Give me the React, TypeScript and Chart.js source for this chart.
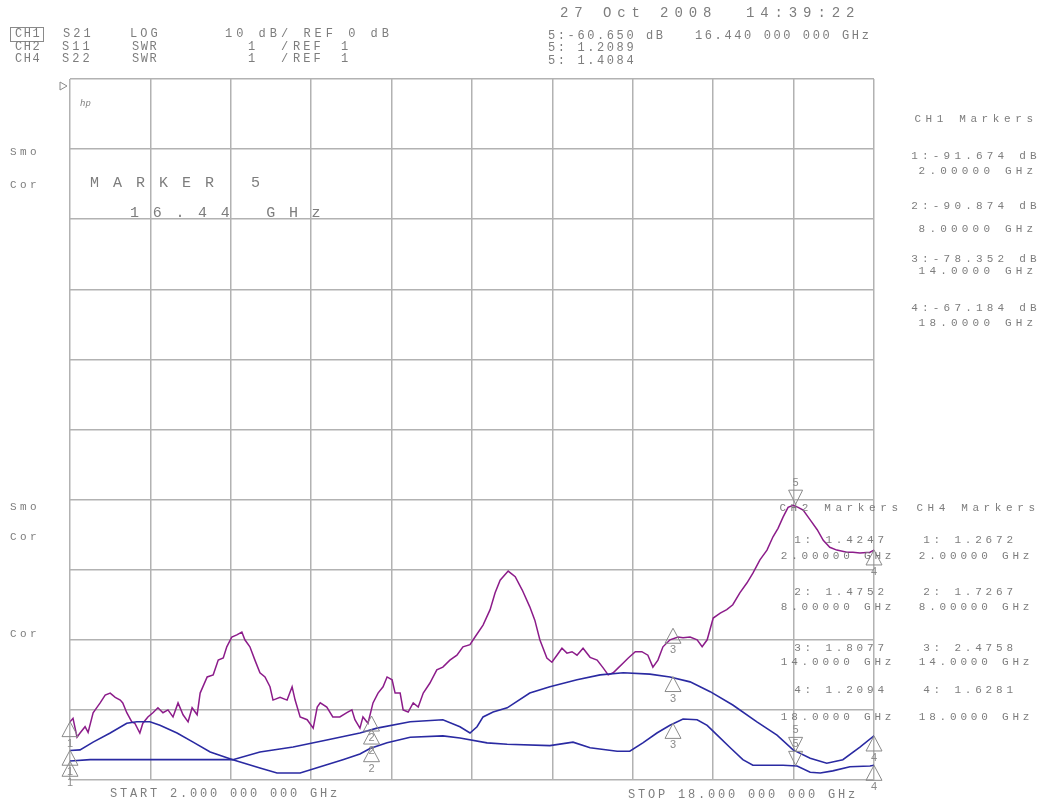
import React, { useEffect, useRef } from "react";
import { Chart, registerables } from "chart.js";

Chart.register(...registerables);

// ---- Data ----
// Frequency grid: 2 GHz to 18 GHz, 10 divisions
const gridFreqTicks = [2, 3.6, 5.2, 6.8, 8.4, 10, 11.6, 13.2, 14.8, 16.4, 18];

// CH1 S21 (dB)
const ch1Freq = [
  2.00, 2.06, 2.14, 2.20, 2.30, 2.36, 2.46, 2.54, 2.60, 2.70,
  2.80, 2.90, 3.00, 3.05, 3.13, 3.23, 3.29, 3.39, 3.45, 3.55,
  3.65, 3.75, 3.85, 3.95, 4.05, 4.15, 4.25, 4.35, 4.43, 4.53,
  4.59, 4.73, 4.85, 4.95, 5.05, 5.12, 5.22, 5.32, 5.42, 5.48,
  5.58, 5.68, 5.78, 5.88, 5.98, 6.04, 6.18, 6.32, 6.42, 6.48,
  6.58, 6.72, 6.84, 6.92, 6.98, 7.11, 7.23, 7.37, 7.51, 7.61,
  7.67, 7.77, 7.83, 7.93, 8.03, 8.13, 8.23, 8.31, 8.41, 8.47,
  8.57, 8.63, 8.73, 8.83, 8.93, 9.03, 9.16, 9.30, 9.42, 9.56,
  9.70, 9.82, 9.96, 10.06, 10.22, 10.36, 10.46, 10.56, 10.72, 10.86,
  11.00, 11.15, 11.25, 11.35, 11.49, 11.59, 11.69, 11.79, 11.89, 11.99,
  12.09, 12.21, 12.35, 12.49, 12.61, 12.71, 12.81, 12.91, 13.01, 13.11,
  13.25, 13.38, 13.50, 13.60, 13.70, 13.80, 13.94, 14.10, 14.20, 14.34,
  14.48, 14.58, 14.68, 14.80, 14.94, 15.07, 15.19, 15.33, 15.47, 15.59,
  15.73, 15.87, 15.99, 16.09, 16.19, 16.29, 16.39, 16.49, 16.59, 16.73,
  16.87, 16.99, 17.12, 17.26, 17.46, 17.58, 17.72, 17.92, 18.00,
];
const ch1Db = [
  -91.7, -91.2, -93.9, -93.3, -92.4, -93.2, -90.4, -89.6, -89.0, -87.9,
  -87.6, -88.2, -88.6, -89.0, -90.4, -91.7, -91.9, -93.3, -91.9, -91.0,
  -90.4, -89.7, -90.4, -90.0, -91.0, -89.0, -90.7, -91.7, -89.7, -90.7,
  -87.6, -85.3, -85.0, -82.9, -82.6, -81.0, -79.6, -79.3, -78.9, -80.0,
  -81.0, -82.9, -84.7, -85.3, -86.7, -88.6, -88.2, -88.6, -86.7, -88.6,
  -91.0, -91.4, -92.6, -89.6, -89.0, -89.6, -91.0, -91.0, -90.4, -90.0,
  -91.4, -92.6, -91.0, -91.9, -89.0, -87.6, -86.7, -85.3, -85.7, -87.6,
  -87.6, -90.0, -90.3, -89.0, -89.6, -87.6, -86.2, -84.3, -83.9, -82.9,
  -82.2, -81.0, -80.7, -79.6, -77.9, -75.7, -73.3, -71.5, -70.2, -71.0,
  -72.9, -75.3, -77.2, -80.0, -82.6, -83.2, -82.2, -81.2, -81.9, -81.7,
  -82.2, -81.2, -82.5, -82.9, -84.0, -85.0, -84.7, -84.0, -83.3, -82.6,
  -81.7, -81.7, -82.2, -83.9, -82.9, -81.0, -80.0, -79.6, -79.7, -79.6,
  -80.0, -81.0, -80.0, -76.9, -76.2, -75.7, -75.0, -73.3, -71.9, -70.5,
  -68.6, -67.2, -65.3, -64.1, -62.5, -61.1, -60.8, -61.1, -61.5, -62.9,
  -64.3, -65.8, -66.8, -67.2, -67.5, -67.5, -67.6, -67.5, -67.2,
];

// CH2 S11 (SWR)
const ch2Freq = [
  2.00, 2.20, 2.46, 2.80, 3.13, 3.33, 3.59, 3.79, 4.13, 4.45,
  4.79, 5.24, 5.78, 6.12, 6.58, 6.98, 7.43, 7.77, 7.97, 8.31,
  8.77, 9.42, 9.76, 10.30, 10.70, 11.55, 12.01, 12.35, 12.89, 13.14,
  13.40, 13.68, 13.94, 14.20, 14.48, 14.68, 14.88, 15.14, 15.39, 15.59,
  16.19, 16.47, 16.73, 16.93, 17.18, 17.52, 17.92, 18.00,
];
const ch2Swr = [
  1.42, 1.43, 1.54, 1.67, 1.81, 1.83, 1.83, 1.78, 1.67, 1.54,
  1.40, 1.29, 1.17, 1.10, 1.10, 1.19, 1.29, 1.37, 1.45, 1.53,
  1.61, 1.63, 1.60, 1.53, 1.51, 1.49, 1.54, 1.46, 1.41, 1.41,
  1.53, 1.67, 1.78, 1.87, 1.86, 1.78, 1.64, 1.46, 1.29, 1.21,
  1.21, 1.20, 1.11, 1.10, 1.13, 1.19, 1.20, 1.21,
];

// CH4 S22 (SWR)
const ch4Freq = [
  2.00, 2.40, 3.59, 5.24, 5.78, 6.44, 7.11, 7.77, 8.11, 8.77,
  9.42, 9.76, 9.96, 10.10, 10.22, 10.42, 10.70, 11.15, 11.55, 12.09,
  12.55, 13.01, 13.54, 13.94, 14.34, 14.74, 15.19, 15.67, 16.07, 16.39,
  16.73, 17.06, 17.38, 17.72, 18.00,
];
const ch4Swr = [
  1.27, 1.29, 1.29, 1.29, 1.40, 1.47, 1.57, 1.67, 1.74, 1.83,
  1.86, 1.76, 1.67, 1.76, 1.90, 1.97, 2.03, 2.24, 2.33, 2.43,
  2.50, 2.53, 2.51, 2.47, 2.40, 2.26, 2.07, 1.83, 1.64, 1.43,
  1.31, 1.24, 1.29, 1.47, 1.63,
];

// Markers
const markerFreqs = [2, 8, 14, 18];
const marker5Freq = 16.44;
const ch1MarkerDb = [-91.674, -90.874, -78.352, -67.184];
const ch1Marker5 = -60.65;
const ch2MarkerSwr = [1.4247, 1.4752, 1.8077, 1.2094];
const ch2Marker5 = 1.2089;
const ch4MarkerSwr = [1.2672, 1.7267, 2.4758, 1.6281];
const ch4Marker5 = 1.4084;

const ch1MarkerText = ["1:-91.674 dB", "2:-90.874 dB", "3:-78.352 dB", "4:-67.184 dB"];
const markerFreqText = ["2.00000 GHz", "8.00000 GHz", "14.0000 GHz", "18.0000 GHz"];
const ch2MarkerText = ["1: 1.4247", "2: 1.4752", "3: 1.8077", "4: 1.2094"];
const ch4MarkerText = ["1: 1.2672", "2: 1.7267", "3: 2.4758", "4: 1.6281"];

// ---- Styles ----
const PURPLE = "#8c1c8a";
const BLUE = "#2a2aa2";
const GRID = "#b2b2b2";
const TEXT = "#7d7d7d";
const MARK = "#8a8a8a";
const FONT = '"Liberation Mono", "DejaVu Sans Mono", monospace';

const markerPlugin = {
  id: "vnaMarkers",
  afterDatasetsDraw(chart: any) {
    const { ctx } = chart;
    const xs = chart.scales.x;
    const groups = [
      { scale: chart.scales.y, vals: ch1MarkerDb, m5: ch1Marker5 },
      { scale: chart.scales.ySwr, vals: ch2MarkerSwr, m5: ch2Marker5 },
      { scale: chart.scales.ySwr, vals: ch4MarkerSwr, m5: ch4Marker5 },
    ];
    ctx.save();
    ctx.strokeStyle = MARK;
    ctx.fillStyle = MARK;
    ctx.lineWidth = 1;
    ctx.font = '11px "Liberation Sans", sans-serif';
    ctx.textAlign = "center";
    ctx.textBaseline = "middle";
    groups.forEach((g) => {
      g.vals.forEach((v: number, i: number) => {
        const px = xs.getPixelForValue(markerFreqs[i]);
        const py = g.scale.getPixelForValue(v);
        ctx.beginPath();
        ctx.moveTo(px, py);
        ctx.lineTo(px - 8, py + 15);
        ctx.lineTo(px + 8, py + 15);
        ctx.closePath();
        ctx.stroke();
        ctx.fillText(String(i + 1), px, py + 22);
      });
      const px = xs.getPixelForValue(marker5Freq);
      const py = g.scale.getPixelForValue(g.m5);
      ctx.beginPath();
      ctx.moveTo(px, py);
      ctx.lineTo(px - 7, py - 14);
      ctx.lineTo(px + 7, py - 14);
      ctx.closePath();
      ctx.stroke();
      ctx.fillText("5", px, py - 21);
    });
    // reference position pointer
    const top = chart.chartArea.top;
    ctx.beginPath();
    ctx.moveTo(60, top + 3);
    ctx.lineTo(67, top + 7);
    ctx.lineTo(60, top + 11);
    ctx.closePath();
    ctx.stroke();
    ctx.restore();
  },
};

type TP = {
  x: number;
  y: number;
  s: string;
  size?: number;
  ls?: number;
  align?: "left" | "center";
  italic?: boolean;
  color?: string;
};

function T({ x, y, s, size = 12, ls = 3, align = "left", italic, color = TEXT }: TP) {
  const style: React.CSSProperties = {
    position: "absolute",
    top: y - size / 2,
    left: x,
    fontSize: size,
    lineHeight: size + "px",
    letterSpacing: ls,
    whiteSpace: "pre",
    color,
    fontFamily: FONT,
    fontStyle: italic ? "italic" : "normal",
  };
  if (align === "center") style.transform = "translateX(-50%)";
  return <div style={style}>{s}</div>;
}

export default function App() {
  const canvasRef = useRef<HTMLCanvasElement>(null);

  useEffect(() => {
    const canvas = canvasRef.current;
    if (!canvas) return;
    const toPts = (xs: number[], ys: number[]) => xs.map((x, i) => ({ x, y: ys[i] }));
    const gridOpts = { color: GRID, lineWidth: 1.5, drawTicks: false };
    const chart = new Chart(canvas, {
      type: "line",
      data: {
        datasets: [
          {
            label: "CH4 S22",
            data: toPts(ch4Freq, ch4Swr),
            yAxisID: "ySwr",
            borderColor: BLUE,
            borderWidth: 1.6,
            pointRadius: 0,
            tension: 0,
          },
          {
            label: "CH2 S11",
            data: toPts(ch2Freq, ch2Swr),
            yAxisID: "ySwr",
            borderColor: BLUE,
            borderWidth: 1.6,
            pointRadius: 0,
            tension: 0,
          },
          {
            label: "CH1 S21",
            data: toPts(ch1Freq, ch1Db),
            yAxisID: "y",
            borderColor: PURPLE,
            borderWidth: 1.5,
            pointRadius: 0,
            tension: 0,
          },
        ],
      },
      options: {
        responsive: false,
        maintainAspectRatio: false,
        animation: false,
        events: [],
        layout: { padding: { left: 70, right: 165, top: 79, bottom: 24 } },
        plugins: { legend: { display: false }, tooltip: { enabled: false } },
        scales: {
          x: {
            type: "linear",
            min: 2,
            max: 18,
            afterBuildTicks: (s: any) => {
              s.ticks = gridFreqTicks.map((v) => ({ value: v }));
            },
            ticks: { display: false },
            grid: gridOpts,
            border: { display: false },
          },
          y: {
            type: "linear",
            min: -100,
            max: 0,
            ticks: { display: false, stepSize: 10 },
            grid: gridOpts,
            border: { display: false },
          },
          ySwr: { type: "linear", min: 1, max: 11, display: false },
        },
      } as any,
      plugins: [markerPlugin],
    });
    return () => chart.destroy();
  }, []);

  const panelRows = [
    [540, 556],
    [592, 607],
    [648, 662],
    [690, 717],
  ];
  const ch1Rows = [
    [156, 171],
    [206, 229],
    [259, 271],
    [308, 323],
  ];

  return (
    <div
      style={{
        position: "absolute",
        left: 0,
        top: 0,
        width: 1039,
        height: 804,
        background: "#ffffff",
        overflow: "hidden",
      }}
    >
      <canvas ref={canvasRef} width={1039} height={804} style={{ position: "absolute", left: 0, top: 0 }} />

      {/* header left */}
      <div style={{ position: "absolute", left: 10, top: 27, width: 32, height: 13, border: "1px solid #8a8a8a" }} />
      <T x={15} y={34} s="CH1" ls={1.5} />
      <T x={63} y={34} s="S21" />
      <T x={130} y={34} s="LOG" />
      <T x={225} y={34} s="10 dB/ REF 0 dB" ls={4} />
      <T x={15} y={47} s="CH2" ls={1.5} />
      <T x={62} y={47} s="S11" />
      <T x={132} y={47} s="SWR" ls={1.5} />
      <T x={248} y={47} s="1" />
      <T x={281} y={47} s="/" />
      <T x={293} y={47} s="REF" />
      <T x={341} y={47} s="1" />
      <T x={15} y={59} s="CH4" ls={1.5} />
      <T x={62} y={59} s="S22" />
      <T x={132} y={59} s="SWR" ls={1.5} />
      <T x={248} y={59} s="1" />
      <T x={281} y={59} s="/" />
      <T x={293} y={59} s="REF" />
      <T x={341} y={59} s="1" />

      {/* header right */}
      <T x={560} y={13} s="27 Oct 2008  14:39:22" size={14} ls={5.9} />
      <T x={548} y={36} s="5:-60.650 dB   16.440 000 000 GHz" ls={2.6} />
      <T x={548} y={48} s="5: 1.2089" ls={2.6} />
      <T x={548} y={61} s="5: 1.4084" ls={2.6} />

      {/* left labels */}
      <T x={80} y={104} s="hp" size={9} ls={0} italic />
      <T x={10} y={152} s="Smo" size={11} ls={3.4} />
      <T x={10} y={185} s="Cor" size={11} ls={3.4} />
      <T x={10} y={507} s="Smo" size={11} ls={3.4} />
      <T x={10} y={537} s="Cor" size={11} ls={3.4} />
      <T x={10} y={634} s="Cor" size={11} ls={3.4} />

      {/* marker annotation */}
      <T x={90} y={183} s="MARKER 5" size={15} ls={14} />
      <T x={130} y={213} s="16.44 GHz" size={15} ls={13.7} />

      {/* CH1 markers panel */}
      <T x={976} y={119} s="CH1 Markers" size={11} ls={4.6} align="center" />
      {ch1MarkerText.map((t, i) => (
        <React.Fragment key={"c1" + i}>
          <T x={976} y={ch1Rows[i][0]} s={t} size={11} ls={4.2} align="center" />
          <T x={978} y={ch1Rows[i][1]} s={markerFreqText[i]} size={11} ls={4.2} align="center" />
        </React.Fragment>
      ))}

      {/* CH2 / CH4 markers panels */}
      <T x={841} y={508} s="CH2 Markers" size={11} ls={4.6} align="center" />
      <T x={978} y={508} s="CH4 Markers" size={11} ls={4.6} align="center" />
      {ch2MarkerText.map((t, i) => (
        <React.Fragment key={"c2" + i}>
          <T x={841} y={panelRows[i][0]} s={t} size={11} ls={3.8} align="center" />
          <T x={838} y={panelRows[i][1]} s={markerFreqText[i]} size={11} ls={3.8} align="center" />
          <T x={970} y={panelRows[i][0]} s={ch4MarkerText[i]} size={11} ls={3.8} align="center" />
          <T x={976} y={panelRows[i][1]} s={markerFreqText[i]} size={11} ls={3.8} align="center" />
        </React.Fragment>
      ))}

      {/* bottom */}
      <T x={110} y={794} s="START 2.000 000 000 GHz" ls={2.8} />
      <T x={628} y={795} s="STOP 18.000 000 000 GHz" ls={2.8} />
    </div>
  );
}
